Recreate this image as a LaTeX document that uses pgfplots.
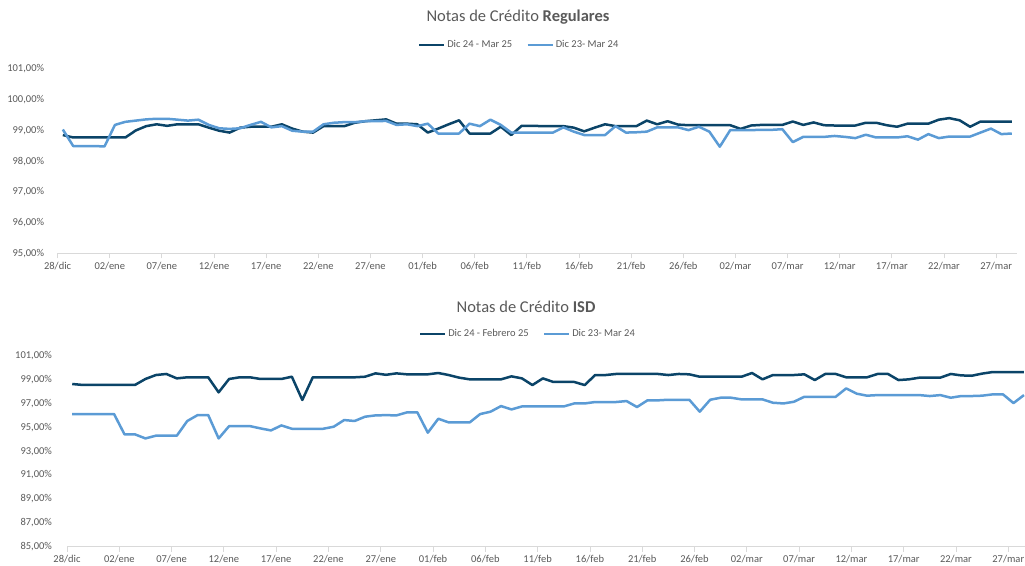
\documentclass[border=0pt]{standalone}
\usepackage{fontspec}
\setmainfont{Carlito}
\usepackage{pgfplots}
\usepackage{pgfplotstable}
\pgfplotsset{compat=1.18}
\definecolor{darkS}{HTML}{0B4468}
\definecolor{lightS}{HTML}{5B9BD5}
\definecolor{txt}{HTML}{595959}
\definecolor{axl}{HTML}{D9D9D9}

\pgfplotstableread{
i a b
0 98.85 99.03
1 98.77 98.49
2 98.77 98.49
3 98.77 98.49
4 98.77 98.48
5 98.77 99.18
6 98.77 99.28
7 99.00 99.32
8 99.14 99.36
9 99.20 99.38
10 99.15 99.38
11 99.20 99.35
12 99.20 99.32
13 99.20 99.35
14 99.09 99.18
15 98.99 99.07
16 98.93 99.05
17 99.09 99.07
18 99.12 99.18
19 99.12 99.28
20 99.12 99.10
21 99.20 99.14
22 99.06 98.99
23 98.96 98.96
24 98.93 98.96
25 99.14 99.20
26 99.14 99.25
27 99.14 99.27
28 99.25 99.27
29 99.30 99.30
30 99.33 99.30
31 99.36 99.31
32 99.22 99.18
33 99.22 99.20
34 99.20 99.14
35 98.93 99.22
36 99.06 98.90
37 99.20 98.90
38 99.33 98.90
39 98.90 99.22
40 98.90 99.14
41 98.90 99.35
42 99.12 99.18
43 98.85 98.93
44 99.15 98.93
45 99.15 98.93
46 99.14 98.93
47 99.14 98.93
48 99.14 99.10
49 99.09 98.96
50 98.97 98.85
51 99.09 98.85
52 99.20 98.85
53 99.14 99.14
54 99.14 98.93
55 99.14 98.94
56 99.32 98.96
57 99.20 99.10
58 99.30 99.10
59 99.19 99.10
60 99.17 99.01
61 99.17 99.12
62 99.17 98.96
63 99.17 98.47
64 99.17 99.01
65 99.05 99.01
66 99.16 99.01
67 99.18 99.02
68 99.18 99.02
69 99.18 99.04
70 99.29 98.62
71 99.18 98.79
72 99.26 98.79
73 99.17 98.79
74 99.16 98.82
75 99.16 98.79
76 99.16 98.75
77 99.25 98.86
78 99.25 98.77
79 99.17 98.77
80 99.12 98.77
81 99.22 98.81
82 99.22 98.70
83 99.22 98.88
84 99.35 98.75
85 99.40 98.80
86 99.33 98.80
87 99.12 98.80
88 99.29 98.93
89 99.29 99.06
90 99.29 98.88
91 99.29 98.90
}\topdata

\pgfplotstableread{
i a b
0 98.63 96.11
1 98.55 96.11
2 98.55 96.11
3 98.55 96.11
4 98.55 96.11
5 98.55 94.41
6 98.55 94.41
7 99.05 94.07
8 99.38 94.30
9 99.47 94.30
10 99.10 94.30
11 99.19 95.53
12 99.19 96.03
13 99.19 96.03
14 97.93 94.07
15 99.05 95.10
16 99.19 95.10
17 99.19 95.10
18 99.05 94.91
19 99.05 94.74
20 99.05 95.16
21 99.24 94.88
22 97.29 94.88
23 99.19 94.88
24 99.19 94.88
25 99.19 95.05
26 99.19 95.61
27 99.19 95.53
28 99.24 95.89
29 99.52 96.00
30 99.40 96.02
31 99.52 96.00
32 99.44 96.25
33 99.44 96.25
34 99.44 94.55
35 99.55 95.72
36 99.38 95.41
37 99.16 95.41
38 99.02 95.41
39 99.02 96.11
40 99.02 96.31
41 99.02 96.78
42 99.27 96.50
43 99.10 96.75
44 98.54 96.75
45 99.10 96.75
46 98.80 96.75
47 98.80 96.75
48 98.80 97.00
49 98.54 97.00
50 99.38 97.12
51 99.38 97.12
52 99.47 97.12
53 99.47 97.20
54 99.47 96.70
55 99.47 97.26
56 99.47 97.26
57 99.38 97.31
58 99.47 97.31
59 99.44 97.31
60 99.24 96.31
61 99.24 97.31
62 99.24 97.48
63 99.24 97.48
64 99.24 97.34
65 99.55 97.34
66 99.02 97.34
67 99.38 97.06
68 99.38 97.00
69 99.38 97.14
70 99.44 97.56
71 98.96 97.56
72 99.47 97.56
73 99.47 97.56
74 99.19 98.26
75 99.19 97.82
76 99.19 97.65
77 99.47 97.70
78 99.47 97.70
79 98.96 97.70
80 99.02 97.70
81 99.16 97.70
82 99.16 97.62
83 99.16 97.70
84 99.47 97.48
85 99.35 97.62
86 99.32 97.62
87 99.50 97.65
88 99.63 97.76
89 99.63 97.76
90 99.63 97.03
91 99.63 97.70
}\botdata

\pgfplotsset{
  mystyle/.style={
    scale only axis,
    axis x line*=bottom,
    axis y line*=left,
    x axis line style={draw=axl,line width=0.8pt,-},
    y axis line style={draw=none},
    ytick style={draw=none},
    xtick style={draw=axl,line width=0.8pt},
    tick align=outside,
    major tick length=5pt,
    xtick={0,5,...,90},
    xticklabels={28/dic,02/ene,07/ene,12/ene,17/ene,22/ene,27/ene,01/feb,06/feb,11/feb,16/feb,21/feb,26/feb,02/mar,07/mar,12/mar,17/mar,22/mar,27/mar},
    tick label style={font=\fontsize{10.5}{12}\selectfont, text=txt},
    /pgf/number format/assume math mode=true,
    yticklabel={\pgfmathprintnumber[fixed,fixed zerofill,precision=2,use comma]{\tick}\%},
    xmin=0,
    legend style={draw=none, fill=none, font=\fontsize{10.5}{12}\selectfont, text=txt,
      legend columns=2, /tikz/every even column/.append style={column sep=12pt},
      inner sep=0pt, row sep=0pt},
    legend image code/.code={\draw[##1, line width=2.5pt] (0pt,0pt) -- (25pt,0pt);},
    every axis plot/.append style={line width=2.5pt, line join=round, no markers},
  }
}

\begin{document}
\begin{tikzpicture}
\path[use as bounding box] (0,0) rectangle (1025pt,565pt);

\begin{axis}[mystyle,
  at={(57.6pt,311.7pt)}, anchor=south west,
  width=959.4pt, height=184.3pt,
  xmax=92, ymin=95, ymax=101, ytick={95,96,...,101},
  yticklabel style={xshift=-5pt},
  legend style={at={(0.481,1)}, anchor=center, yshift=24pt},
]
\addplot[darkS] table[x expr=\thisrow{i}+0.5, y=a] {\topdata};
\addlegendentry{Dic 24 - Mar 25}
\addplot[lightS] table[x expr=\thisrow{i}+0.5, y=b] {\topdata};
\addlegendentry{Dic 23- Mar 24}
\end{axis}

\begin{axis}[mystyle,
  at={(67pt,18.3pt)}, anchor=south west,
  width=958pt, height=191pt,
  xmax=91.6, ymin=85, ymax=101, ytick={85,87,...,101},
  yticklabel style={xshift=-6.5pt},
  legend style={at={(0.481,1)}, anchor=center, yshift=21.7pt},
]
\addplot[darkS] table[x expr=\thisrow{i}+0.5, y=a] {\botdata};
\addlegendentry{Dic 24 - Febrero 25}
\addplot[lightS] table[x expr=\thisrow{i}+0.5, y=b] {\botdata};
\addlegendentry{Dic 23- Mar 24}
\end{axis}

\node[text=txt, font=\fontsize{16.5}{19}\selectfont] at (518pt,548pt) {Notas de Crédito \textbf{Regulares}};
\node[text=txt, font=\fontsize{16.5}{19}\selectfont] at (526pt,258pt) {Notas de Crédito \textbf{ISD}};
\end{tikzpicture}
\end{document}
